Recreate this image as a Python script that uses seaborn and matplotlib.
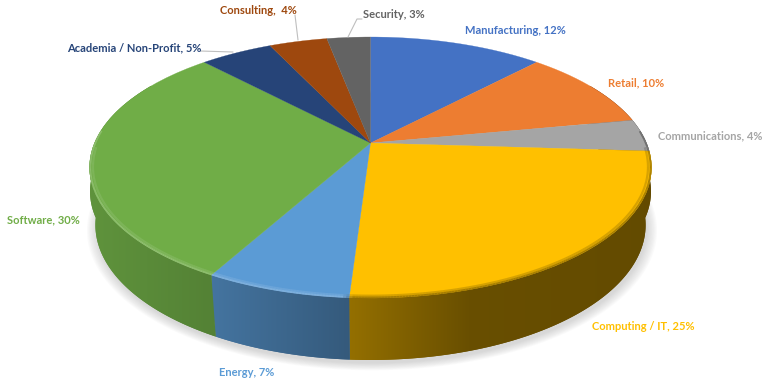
import numpy as np
import matplotlib
matplotlib.use('Agg')
import matplotlib.pyplot as plt
import seaborn as sns
from matplotlib.collections import LineCollection
from matplotlib.colors import to_rgb
from matplotlib.patches import Polygon
from matplotlib.path import Path
from matplotlib.transforms import Affine2D, Transform

# chart data
sectors = ['Manufacturing', 'Retail', 'Communications', 'Computing / IT', 'Energy',
           'Software', 'Academia / Non-Profit', 'Consulting', 'Security']
shares = [12, 10, 4, 25, 7, 30, 5, 4, 3]
sector_colors = ['#4472C4', '#ED7D31', '#A5A5A5', '#FFC000', '#5B9BD5',
                 '#70AD47', '#264478', '#9E480E', '#636363']
label_texts = ['Manufacturing, 12%', 'Retail, 10%', 'Communications, 4%', 'Computing / IT, 25%',
               'Energy, 7%', 'Software, 30%', 'Academia / Non-Profit, 5%', 'Consulting,  4%', 'Security, 3%']

# layout, in image pixels
label_xy = [(465, 31), (608, 83), (658, 136), (592, 327), (219, 373),
            (7, 220), (67, 48), (220, 11), (363, 15)]
leaders = [([200, 233], [51, 52]), ([295, 298], [15, 40]), ([362, 357, 348], [19, 19, 37])]


class Tilt(Transform):
    """unit pie disc seen in perspective, output in image pixels"""
    input_dims = 2
    output_dims = 2

    def __init__(self, cx, cy, a, b, k):
        super().__init__()
        self.cx, self.cy, self.a, self.b, self.k = cx, cy, a, b, k

    def transform_non_affine(self, values):
        values = np.asarray(values, dtype=float)
        w = 1 + self.k * values[:, 1]
        return np.column_stack([self.cx + self.b * values[:, 0] / w,
                                self.cy - self.a * values[:, 1] / w])

    def transform_path_non_affine(self, path):
        # flatten the arcs first, the projection does not keep beziers
        poly = path.to_polygons(Affine2D().scale(400), closed_only=True)[0] / 400
        return Path(self.transform_non_affine(poly), closed=True)


def circle(theta, r=1.0):
    t = np.radians(theta)
    return np.column_stack([r * np.cos(t), r * np.sin(t)])


top = Tilt(370.5, 143, 125.9, 276, 0.1877)
mid = Tilt(370.5, 167, 125.9, 275.5, 0.1877)  # rounded shoulder of the wall
low = Tilt(370.5, 200.7, 130.6, 270.6, 0.18)

sns.set_theme(style='white')
palette = sns.color_palette(sector_colors)

fig = plt.figure(figsize=(7.68, 3.85), dpi=100)
ax = fig.add_axes([0, 0, 1, 1])
wedges, _ = ax.pie(shares, colors=palette, startangle=90, counterclock=False)
ax.set_aspect('auto')

# soft shadow under the disc
ring = circle(np.linspace(0, 360, 361))
for grow in np.linspace(1.035, 1.0, 9):
    xy = low.transform(ring * grow)
    ax.fill(xy[:, 0] + 1.5, xy[:, 1] + 3.5, color='#808080', alpha=0.035, lw=0, zorder=0.5)

# side wall, darker towards the right: one gradient per slice clipped to its wall
xs = np.arange(768) + 0.5
shade = np.interp(xs, [90, 212, 350, 470, 650], [0.85, 0.75, 0.58, 0.41, 0.39])
for w, color in zip(wedges, palette):
    th = np.linspace(w.theta1, w.theta2, max(int(w.theta2 - w.theta1) * 2, 2))
    th = th[np.sin(np.radians(th)) < 0.5]
    if len(th) < 2:
        continue
    grad = (np.array(to_rgb(color))[None, :] * shade[:, None])[None, :, :]
    for inner, outer in [(top, mid), (mid, low), (top, low)]:
        outline = np.vstack([inner.transform(circle(th)), outer.transform(circle(th))[::-1]])
        clip = Polygon(outline, closed=True, transform=ax.transData, fc='none', ec='none')
        ax.add_patch(clip)
        im = ax.imshow(grad, extent=(0, 768, 385, 0), aspect='auto', zorder=1, interpolation='bilinear')
        im.set_clip_path(clip)

ax.set_xlim(0, 768)
ax.set_ylim(385, 0)

# top face
for w, color in zip(wedges, palette):
    w.set_transform(top + ax.transData)
    w.set_edgecolor(color)
    w.set_linewidth(0.2)
    w.set_zorder(2)

# bevel along the front rim: light on the left, dark on the right
for r, lw, alpha, limit in [(0.997, 1.3, 0.75, 0.1), (0.988, 1.6, 0.35, -0.03)]:
    segs, cols = [], []
    for w, color in zip(wedges, palette):
        th = np.linspace(w.theta1, w.theta2, max(int(w.theta2 - w.theta1) * 2, 2))
        keep = np.sin(np.radians(th)) < limit
        if keep.sum() < 2:
            continue
        xy = top.transform(circle(th[keep], r))
        rgb = np.array(to_rgb(color))
        for i in range(len(xy) - 1):
            mix = np.interp(xy[i, 0], [340, 352], [1.0, 0.0])
            tint = rgb + (1 - rgb) * 0.28
            rim = tint * mix + rgb * 0.55 * (1 - mix)
            segs.append(xy[i:i + 2])
            cols.append((*rim, alpha))
    ax.add_collection(LineCollection(segs, colors=cols, linewidths=lw, zorder=3, capstyle='butt'))

# labels and leader lines
for (lx, ly) in leaders:
    ax.plot(lx, ly, color='#bfbfbf', lw=0.8, zorder=4)
for text, (x, y), color in zip(label_texts, label_xy, palette):
    ax.text(x, y, text, color=color, fontsize=8, fontweight='bold', family='Lato',
            ha='left', va='center', zorder=5)

fig.savefig('out.png', dpi=100)
